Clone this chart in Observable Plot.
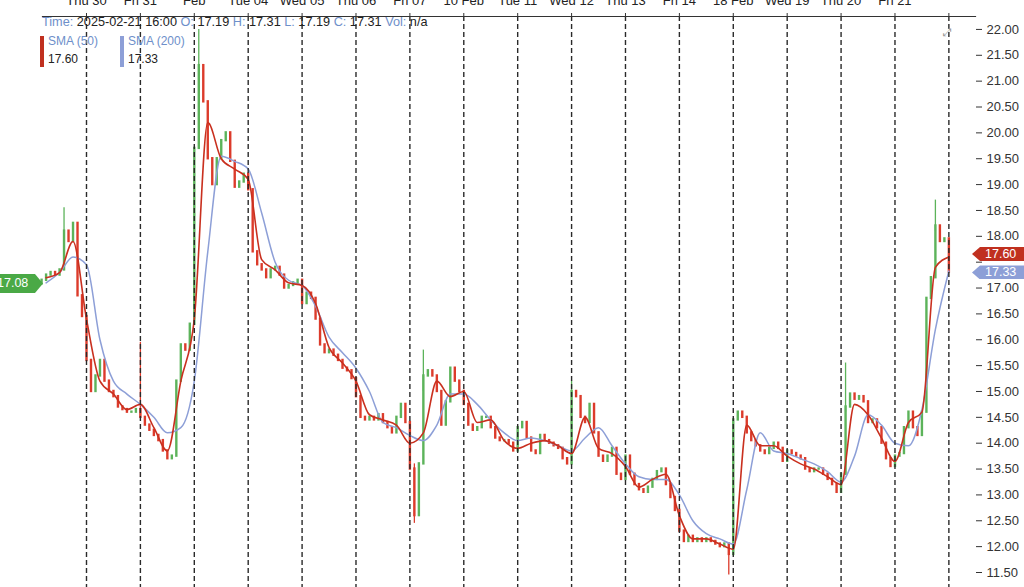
<!DOCTYPE html>
<html><head><meta charset="utf-8">
<script src="https://cdn.jsdelivr.net/npm/d3@7"></script>
<script src="https://cdn.jsdelivr.net/npm/@observablehq/plot@0.6"></script>
<style>
html,body{margin:0;padding:0;background:#fff;}
body{font-family:"Liberation Sans",Arial,Helvetica,sans-serif;}
#wrap{position:relative;width:1024px;height:587px;overflow:hidden;background:#fff;}
.ov{position:absolute;white-space:nowrap;font-size:12px;line-height:14px;}
.hdr{font-size:12.7px;}
.lbl{color:#6e8fca;}
.val{color:#222;}
.tag{position:absolute;color:#fff;font-size:12.5px;line-height:14px;height:14px;white-space:nowrap;}
</style></head><body><div id="wrap"></div>
<script>
// ---- data ----
const dayLabels = ["Thu 30","Fri 31","Feb","Tue 04","Wed 05","Thu 06","Fri 07","10 Feb","Tue 11","Wed 12","Thu 13","Fri 14","18 Feb","Wed 19","Thu 20","Fri 21",""];
const sessionStarts = [0,1,2,3,4,5,6,7,8,9,10,11,12,13,14,15,16];
const barsPerDay = 12;
const firstBarOffset = -10; // bars before first labelled session
const firstOpen = 17.08;
const closes = [
  17.15,17.25,17.3,17.25,17.35,18.1,17.9,18.25,16.85,16.45,
  15.6,15.0,15.3,15.6,15.2,15.0,14.9,14.7,14.65,14.6,14.6,14.65,
  14.5,14.35,14.25,14.15,14.05,13.85,13.7,13.75,15.2,15.9,15.8,16.3,
  19.7,21.3,20.6,19.5,19.0,19.5,19.85,20.0,19.45,18.95,19.05,19.2,
  18.9,17.7,17.45,17.35,17.2,17.35,17.4,17.25,17.0,17.05,17.1,17.15,
  16.7,16.9,16.8,16.4,15.9,15.75,15.8,15.7,15.6,15.45,15.4,15.25,
  14.9,14.5,14.45,14.5,14.45,14.55,14.4,14.3,14.2,14.5,14.75,14.4,
  13.5,12.6,13.6,15.3,15.4,15.3,15.0,14.35,14.8,15.45,15.2,15.0,
  14.75,14.35,14.25,14.3,14.5,14.5,14.3,14.1,14.05,14.05,14.0,13.85,
  14.3,14.4,14.1,13.85,13.8,14.15,14.05,14.0,13.95,13.9,13.7,13.6,
  15.0,14.9,14.5,14.4,14.75,14.2,13.75,13.65,13.75,13.9,13.4,13.3,
  13.75,13.4,13.2,13.1,13.05,13.15,13.3,13.45,13.5,13.2,12.95,12.7,
  12.3,12.1,12.2,12.1,12.15,12.1,12.15,12.1,12.05,12.0,12.05,11.85,
  14.45,14.6,14.5,14.2,14.05,13.95,13.85,13.8,13.9,14.0,13.9,13.65,
  13.85,13.8,13.75,13.7,13.5,13.45,13.5,13.5,13.4,13.3,13.2,13.05,
  13.4,14.7,14.95,14.85,14.9,14.8,14.4,14.45,14.3,14.0,13.7,13.55,
  13.75,13.8,14.3,14.6,14.3,14.15,14.6,16.8,17.2,18.2,17.9,17.95,17.31
];
const spikeBars = [5,22,35,83,85,118,153,179,199];
const spikeHigh = [18.55,15.95,22.0,13.6,15.8,15.2,12.05,15.55,18.7];
const spikeLow  = [18.0,14.5,21.0,12.45,15.0,14.9,11.45,14.6,18.1];
const smaStart = -0.75, smaStep = 0.25;
const sma50 = [17.2,17.3,17.9,16.4,15.2,14.95,14.65,14.75,14.3,13.85,15.2,16.4,20.2,19.5,19.3,19.1,17.55,17.35,17.1,17.05,16.7,15.85,15.55,15.2,14.55,14.45,14.35,14.0,14.2,15.2,14.9,15.0,14.4,14.45,14.05,13.9,14.0,14.05,13.95,13.8,14.5,13.9,13.8,13.55,13.15,13.3,13.4,12.6,12.15,12.15,12.05,11.95,14.35,13.95,13.95,13.75,13.6,13.5,13.35,13.2,14.75,14.55,14.1,13.65,14.4,14.6,17.4,17.6];
const sma200 = [17.1,17.3,17.6,17.45,16.0,15.2,14.95,14.75,14.5,14.2,14.3,15.2,17.7,19.55,19.45,19.3,18.45,17.5,17.15,17.05,16.65,16.05,15.75,15.45,15.0,14.4,14.3,14.15,14.05,14.35,14.95,14.95,14.75,14.45,14.2,14.05,14.1,14.05,13.95,13.85,14.1,14.3,13.95,13.6,13.35,13.3,13.3,13.0,12.5,12.25,12.15,12.05,13.1,14.2,13.85,13.8,13.7,13.6,13.45,13.25,13.75,14.55,14.35,14.0,13.95,14.65,16.2,17.33];
const yTicks = [11.5,12,12.5,13,13.5,14,14.5,15,15.5,16,16.5,17,17.5,18,18.5,19,19.5,20,20.5,21,21.5,22];
const hiddenTickLabels = [17.5]; // covered by the price tags
const lastSma50 = 17.60, lastSma200 = 17.33, prevClose = 17.08;

// ---- build tables ----
const GREEN = "#5cb35a", RED = "#dc3b2b";
const bars = closes.map((c, i) => {
  const open = i === 0 ? firstOpen : closes[i - 1];
  return {t: (i + firstBarOffset) / barsPerDay, open, close: c, up: c >= open};
});
const spikes = spikeBars.map((b, j) => ({t: bars[b].t, lo: spikeLow[j], hi: spikeHigh[j], up: bars[b].up}));
const smaRows = sma50.map((v, k) => ({t: smaStart + k * smaStep, s50: v, s200: sma200[k]}));
const fmt = d3.format(".2f");

const chart = Plot.plot({
  width: 1024, height: 587,
  marginLeft: 42, marginRight: 49, marginTop: 16, marginBottom: 0,
  x: {domain: [-0.8163, 16.494], label: null},
  y: {domain: [11.21, 22.25], label: null},
  style: {fontFamily: '"Liberation Sans", Arial, sans-serif', fontSize: "13px", color: "#222", background: "#fff", overflow: "visible"},
  marks: [
    Plot.ruleX(spikes, {x: "t", y1: "lo", y2: "hi", stroke: d => d.up ? GREEN : RED, strokeWidth: 1.3}),
    Plot.ruleX(bars, {x: "t", y1: "open", y2: "close", stroke: d => d.up ? GREEN : RED, strokeWidth: 2.4, strokeLinecap: "square"}),
    Plot.line(smaRows, {x: "t", y: "s200", stroke: "#8d9fd7", strokeWidth: 1.5, curve: "monotone-x"}),
    Plot.line(smaRows, {x: "t", y: "s50", stroke: "#c9301f", strokeWidth: 1.6, curve: "monotone-x"}),
    Plot.ruleX(sessionStarts, {stroke: "#2a2a2a", strokeWidth: 1.4, strokeDasharray: "5,3"}),
    Plot.frame({anchor: "top", stroke: "#333", strokeWidth: 1.2}),
    Plot.axisX(sessionStarts, {anchor: "top", label: null, tickSize: 4, tickPadding: 8, tickFormat: i => dayLabels[i], stroke: "#333", fill: "#222", fontSize: 13}),
    Plot.axisY(yTicks, {anchor: "right", label: null, tickSize: 6, tickPadding: 5, tickFormat: d => hiddenTickLabels.includes(d) ? "" : fmt(d), stroke: "#333", fill: "#333", fontSize: 13})
  ]
});
const wrap = document.getElementById("wrap");
chart.style.position = "absolute"; chart.style.left = "0"; chart.style.top = "0";
wrap.appendChild(chart);

const ys = chart.scale("y");
function addDiv(html, css, cls) {
  const d = document.createElement("div");
  d.className = cls || "ov";
  d.innerHTML = html;
  Object.assign(d.style, css);
  wrap.appendChild(d);
  return d;
}
// header line
addDiv('<span class="lbl">Time:</span> <span class="val">2025-02-21 16:00</span> <span class="lbl">O:</span> <span class="val">17.19</span> <span class="lbl">H:</span> <span class="val">17.31</span> <span class="lbl">L:</span> <span class="val">17.19</span> <span class="lbl">C:</span> <span class="val">17.31</span> <span class="lbl">Vol:</span> <span class="val">n/a</span>', {left: "42px", top: "15px"}, "ov hdr");
// legend
addDiv("", {left: "40px", top: "36px", width: "3.5px", height: "31px", background: "#c0301f"});
addDiv('<span class="lbl">SMA (50)</span>', {left: "48px", top: "34px"});
addDiv('<span class="val">' + lastSma50.toFixed(2) + '</span>', {left: "48px", top: "52px"});
addDiv("", {left: "120px", top: "36px", width: "3.5px", height: "31px", background: "#8d9fd7"});
addDiv('<span class="lbl">SMA (200)</span>', {left: "128px", top: "34px"});
addDiv('<span class="val">' + lastSma200.toFixed(2) + '</span>', {left: "128px", top: "52px"});
// expand icon
addDiv('⤢', {left: "943px", top: "25px", color: "#999", fontSize: "11px"});
// price tags via y scale
function rightTag(v, color, off) {
  const y = ys.apply(v);
  addDiv(v.toFixed(2), {left: "972px", top: (y - off) + "px", width: "52px", background: color, paddingLeft: "13px", boxSizing: "border-box",
    clipPath: "polygon(0 50%, 8px 0, 100% 0, 100% 100%, 8px 100%)"}, "tag");
}
rightTag(lastSma50, "#c0301f", 9.5);
rightTag(lastSma200, "#8d9fd7", 5);
{
  const y = ys.apply(prevClose);
  addDiv(prevClose.toFixed(2), {left: "-4px", top: (y - 9.5) + "px", width: "47px", height: "19px", lineHeight: "19px", background: "#4aa946", paddingLeft: "1px", boxSizing: "border-box",
    clipPath: "polygon(0 0, calc(100% - 8px) 0, 100% 50%, calc(100% - 8px) 100%, 0 100%)"}, "tag");
}
</script></body></html>
